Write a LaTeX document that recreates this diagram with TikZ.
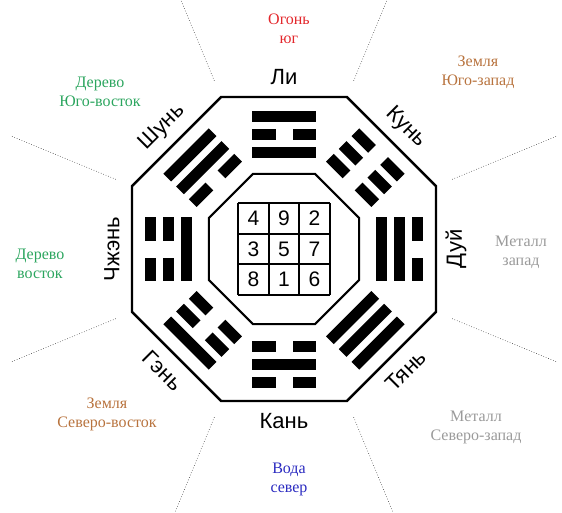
\documentclass[tikz,border=0pt]{standalone}
\usepackage{fontspec}
\setmainfont{Liberation Serif}
\setsansfont{Liberation Sans}
\usetikzlibrary{calc}

\definecolor{fire}{HTML}{E3262B}
\definecolor{earth}{HTML}{B8733E}
\definecolor{wood}{HTML}{2BA55E}
\definecolor{metal}{HTML}{9A9A9A}
\definecolor{water}{HTML}{2A2AC0}

\begin{document}
\begin{tikzpicture}[x=1pt, y=1pt,
  gua/.style={font=\sffamily\fontsize{22}{26}\selectfont, inner sep=0pt},
  elem/.style={font=\rmfamily\fontsize{16}{19}\selectfont, align=center},
  num/.style={font=\sffamily\fontsize{21}{24}\selectfont},
  sector/.style={dotted, line width=0.6pt, black!80},
]
  \useasboundingbox (-284,-263) rectangle (278,249);
  \clip (-284,-263) rectangle (278,249);
  % границы секторов
  \foreach \a in {22.5,67.5,...,337.5}
    \draw[sector] (\a:182) -- (\a:295);
  % внешний и внутренний восьмиугольники
  \draw[line width=2.4pt] (22.5:164.5)
    \foreach \a in {67.5,112.5,...,337.5} { -- (\a:164.5) } -- cycle;
  \draw[line width=2pt] (22.5:81.2)
    \foreach \a in {67.5,112.5,...,337.5} { -- (\a:81.2) } -- cycle;
  % квадрат Ло Шу
  \foreach \i in {0,...,3} {
    \draw[line width=1.8pt] (-45.75+\i*30.5,-45.75) -- (-45.75+\i*30.5,45.75);
    \draw[line width=1.8pt] (-45.75,-45.75+\i*30.5) -- (45.75,-45.75+\i*30.5);
  }
  \foreach \n/\x/\y in {4/-1/1, 9/0/1, 2/1/1, 3/-1/0, 5/0/0, 7/1/0, 8/-1/-1, 1/0/-1, 6/1/-1}
    \node[num] (n\n) at (\x*30.5,\y*30.5) {\n};
  % триграммы: снизу вверх = от центра наружу
  \foreach \a/\la/\lb/\lc in {90/1/0/1, 45/0/0/0, 0/1/1/0, -45/1/1/1,
                              -90/0/1/0, -135/0/0/1, 180/1/0/0, 135/0/1/1}
  {
    \begin{scope}[rotate=\a-90]
      \foreach \rad/\yang in {97/\la, 115/\lb, 133/\lc} {
        \ifnum\yang=1
          \fill (-32,\rad-5.5) rectangle (32,\rad+5.5);
        \else
          \fill (-32,\rad-5.5) rectangle (-8.5,\rad+5.5);
          \fill (8.5,\rad-5.5) rectangle (32,\rad+5.5);
        \fi
      }
    \end{scope}
  }
  % названия триграмм
  \foreach \a/\rot/\nm/\txt in {90/0/li/Ли, 45/-45/kun/Кунь, 0/90/dui/Дуй,
                                -45/45/qian/Тянь, -90/0/kan/Кань, -135/-45/gen/Гэнь,
                                180/90/zhen/Чжэнь, 135/45/xun/Шунь}
    \node[gua, rotate=\rot] (\nm) at (\a:172) {\txt};
  % стихии и стороны света
  \node[elem, text=fire]  (south)     at (5,220)     {Огонь\\юг};
  \node[elem, text=earth] (southwest) at (194,177)   {Земля\\Юго-запад};
  \node[elem, text=metal] (west)      at (237,-3)    {Металл\\запад};
  \node[elem, text=metal] (northwest) at (192,-178)  {Металл\\Северо-запад};
  \node[elem, text=water] (north)     at (5,-230)    {Вода\\север};
  \node[elem, text=earth] (northeast) at (-177,-165) {Земля\\Северо-восток};
  \node[elem, text=wood]  (east)      at (-244,-15)  {Дерево\\восток};
  \node[elem, text=wood]  (southeast) at (-184,157)  {Дерево\\Юго-восток};
\end{tikzpicture}
\end{document}
